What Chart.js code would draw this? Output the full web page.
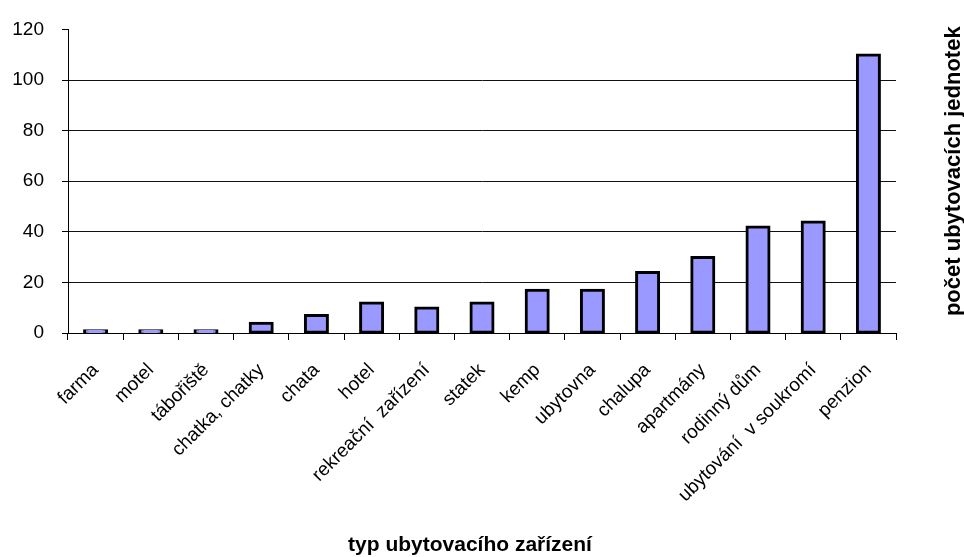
<!DOCTYPE html>
<html>
<head>
<meta charset="utf-8">
<script src="https://cdn.jsdelivr.net/npm/chart.js@4"></script>
<style>
  html, body { margin: 0; padding: 0; background: #fff; }
  #wrap { width: 964px; height: 557px; }
</style>
</head>
<body>
<div id="wrap"><canvas id="accomChart" width="964" height="557"></canvas></div>
<script>
// data
const categories = ['farma', 'motel', 'tábořiště', 'chatka, chatky', 'chata', 'hotel', 'rekreační  zařízení',
    'statek', 'kemp', 'ubytovna', 'chalupa', 'apartmány', 'rodinný dům', 'ubytování  v soukromí', 'penzion'];
const unitCounts = [1, 1, 1, 4, 7, 12, 10, 12, 17, 17, 24, 30, 42, 44, 110];
const yTicks = [0, 20, 40, 60, 80, 100, 120];
const xTitle = 'typ ubytovacího zařízení';
const yTitle = 'počet ubytovacích jednotek';

const FONT = '"Liberation Sans", Arial, sans-serif';

// both axis titles drawn by hand: x title sits a bit left of centre,
// y title is on the right side reading bottom-to-top
const axisTitlesPlugin = {
    id: 'axisTitles',
    afterDraw(chart) {
        const ctx = chart.ctx;
        const area = chart.chartArea;
        ctx.save();
        ctx.font = 'bold 21px ' + FONT;
        ctx.fillStyle = '#000';
        ctx.textAlign = 'center';
        ctx.textBaseline = 'alphabetic';
        ctx.fillText(xTitle, 470, 551);

        ctx.translate(960, (area.top + area.bottom) / 2 - 10);
        ctx.rotate(-Math.PI / 2);
        ctx.font = 'bold 22px ' + FONT;
        ctx.fillText(yTitle, 0, 0);
        ctx.restore();
    }
};

new Chart(document.getElementById('accomChart'), {
    type: 'bar',
    data: {
        labels: categories,
        datasets: [{
            data: unitCounts,
            backgroundColor: '#9999ff',
            borderColor: '#000',
            borderWidth: 3,
            borderSkipped: false,
            inflateAmount: 1.2,
            barPercentage: 0.41,
            categoryPercentage: 1
        }]
    },
    options: {
        responsive: false,
        animation: false,
        devicePixelRatio: 1,
        layout: { padding: { top: 27, right: 68, bottom: 0, left: 0 } },
        plugins: {
            legend: { display: false },
            tooltip: { enabled: false }
        },
        scales: {
            x: {
                afterFit: scale => { scale.height = 224; },
                grid: { offset: true, drawOnChartArea: false, drawTicks: true, tickLength: 7, tickColor: '#000', color: '#000' },
                border: { display: true, color: '#000', width: 1 },
                ticks: {
                    autoSkip: false, maxRotation: 45, minRotation: 45, padding: 19,
                    color: '#000', font: { family: FONT, size: 19 }
                }
            },
            y: {
                min: 0,
                max: 120,
                afterFit: scale => { scale.width = 68; },
                afterBuildTicks: scale => { scale.ticks = yTicks.map(v => ({ value: v })); },
                grid: {
                    color: ctx => (ctx.tick && ctx.tick.value === 120 ? 'rgba(0,0,0,0)' : '#111'),
                    tickColor: '#000',
                    tickLength: 6,
                    lineWidth: 1
                },
                border: { display: true, color: '#000', width: 1 },
                ticks: { padding: 18, color: '#000', font: { family: FONT, size: 19 } }
            }
        }
    },
    plugins: [axisTitlesPlugin]
});
</script>
</body>
</html>
